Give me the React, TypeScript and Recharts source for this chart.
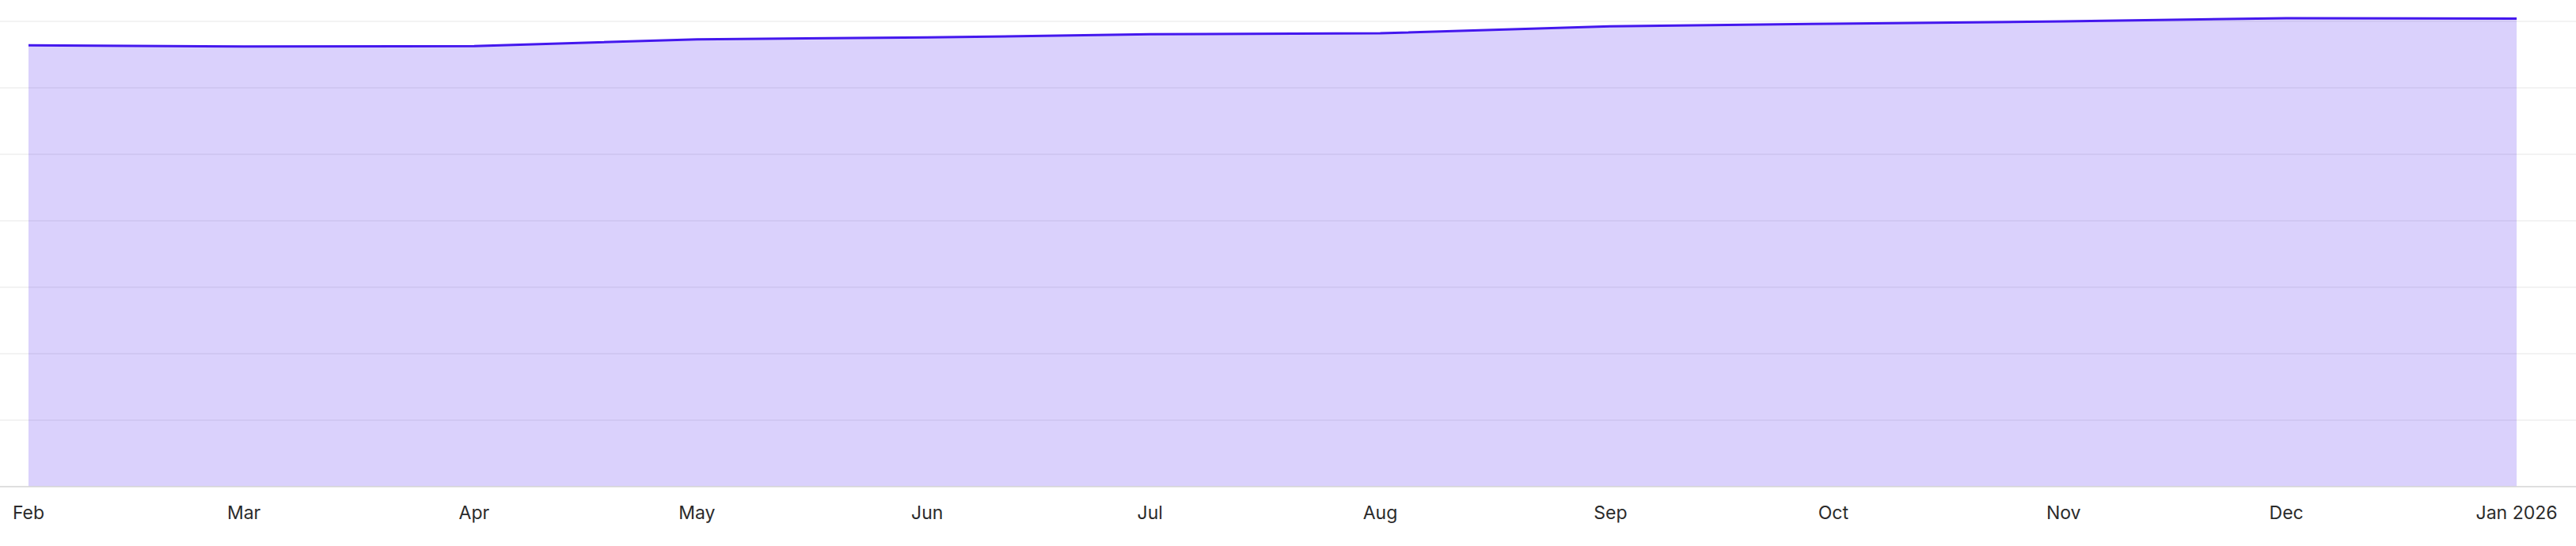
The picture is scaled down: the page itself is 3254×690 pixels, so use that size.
import { Area, AreaChart, CartesianGrid, XAxis, YAxis } from "recharts";

// monthly snapshots (first one taken on the last day of January)
const DATES = [
  "2025-01-31", "2025-03-01", "2025-04-01", "2025-05-01", "2025-06-01", "2025-07-01",
  "2025-08-01", "2025-09-01", "2025-10-01", "2025-11-01", "2025-12-01", "2026-01-01",
];
const TICK_LABELS = ["Feb", "Mar", "Apr", "May", "Jun", "Jul", "Aug", "Sep", "Oct", "Nov", "Dec", "Jan 2026"];
const VALUES = [664, 662.3, 662.7, 673, 675.8, 680.6, 682.1, 692.6, 696.4, 700, 704.8, 704.2];
const Y_TICKS = [0, 100, 200, 300, 400, 500, 600, 700];

const LINE_COLOR = "#4418ee";

const toTime = (s: string) => new Date(s + "T00:00:00Z").getTime();
const X_TICKS = DATES.map(toTime);
const data = DATES.map((d, i) => ({ t: toTime(d), value: VALUES[i] }));

function formatTick(t: number) {
  const i = X_TICKS.indexOf(t);
  return i >= 0 ? TICK_LABELS[i] : "";
}

export default function App() {
  return (
    <div style={{ position: "absolute", left: 0, top: 0, background: "#fff" }}>
      <AreaChart width={3254} height={690} data={data} margin={{ top: 6, right: 0, bottom: 0, left: 0 }}>
        <CartesianGrid vertical={false} horizontalValues={Y_TICKS} stroke="#efefef" strokeWidth={1.5} />
        <XAxis
          dataKey="t"
          type="number"
          scale="time"
          domain={["dataMin", "dataMax"]}
          ticks={X_TICKS}
          tickFormatter={formatTick}
          height={75}
          interval={0}
          padding={{ left: 36, right: 75 }}
          tickLine={false}
          tickMargin={19}
          axisLine={{ stroke: "#d9d9d9", strokeWidth: 1.5 }}
          tick={{ fill: "#2b2b2b", fontSize: 23, fontFamily: "Inter, sans-serif" }}
        />
        <YAxis hide domain={[0, 725]} ticks={Y_TICKS} />
        <Area
          type="linear"
          dataKey="value"
          stroke={LINE_COLOR}
          strokeWidth={3}
          fill={LINE_COLOR}
          fillOpacity={0.2}
          dot={false}
          activeDot={false}
          isAnimationActive={false}
        />
      </AreaChart>
    </div>
  );
}
